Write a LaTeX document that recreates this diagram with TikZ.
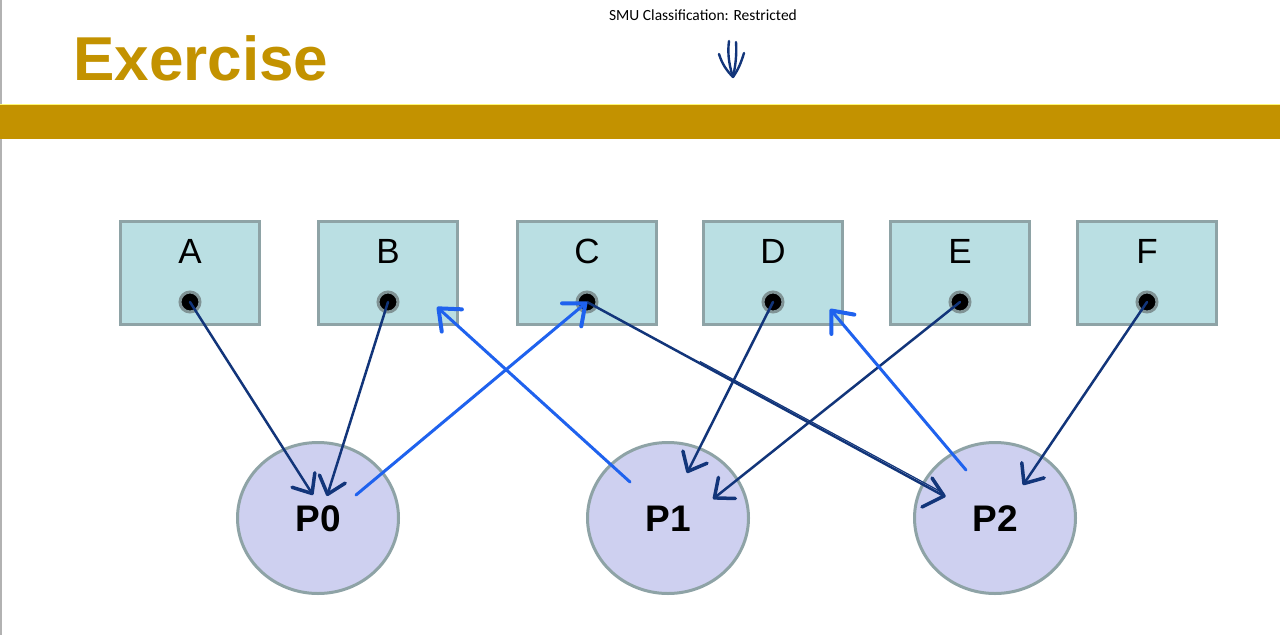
\documentclass[tikz,border=0pt]{standalone}
\usepackage{fontspec}
\setmainfont{Liberation Sans}
\newfontfamily\calibrifont{Carlito}
\usetikzlibrary{arrows.meta,shapes.geometric}

\definecolor{gold}{HTML}{C39200}
\definecolor{boxfill}{HTML}{BADFE3}
\definecolor{procfill}{HTML}{CED0F0}
\definecolor{edgegray}{HTML}{8EA3A6}
\definecolor{navy}{HTML}{12357A}
\definecolor{inkblue}{HTML}{1F62EE}

\tikzset{
  handtip/.tip={Straight Barb[length=16pt,width=27pt,line width=3.5pt,round]},
  bigtip/.tip={Straight Barb[length=18pt,width=30pt,line width=4pt,round]},
  mem/.style={draw=edgegray, line width=3pt, fill=boxfill, minimum width=139pt, minimum height=103pt, inner sep=0pt},
  memlabel/.style={font=\fontsize{35}{35}\selectfont, inner sep=0pt},
  dot/.style={circle, draw=edgegray!90!black, line width=3pt, fill=black, minimum size=20pt, inner sep=0pt},
  proc/.style={ellipse, draw=edgegray, line width=3pt, fill=procfill, minimum width=161pt, minimum height=151pt, inner sep=0pt},
  proclabel/.style={font=\fontsize{37}{37}\selectfont\bfseries, inner sep=0pt},
  ptr/.style={draw=navy, line width=2.5pt, line cap=round},
  ink/.style={draw=inkblue, line width=3pt, line cap=round},
  navyink/.style={draw=navy, line width=3.5pt, line cap=round, line join=round},
}

\begin{document}
\begin{tikzpicture}[x=1pt,y=-1pt]
\useasboundingbox (0,0) rectangle (1280,635);
\fill[white] (0,0) rectangle (1280,635);

% slide edge and header band
\draw[gray!60, line width=2pt] (1,0) -- (1,635);
\fill[gold] (0,104) rectangle (1280,139);
\draw[yellow!55!white, line width=1pt] (0,104.5) -- (1280,104.5);

% header texts
\node[anchor=west, inner sep=0pt, text=gold, font=\fontsize{62}{62}\selectfont\bfseries] (title) at (73,58) {Exercise};
\node[inner sep=0pt, font=\calibrifont\fontsize{15.5}{16}\selectfont] (tag) at (703,15) {SMU Classification: Restricted};

% hand-drawn down arrow under the tag
\draw[navyink, line width=2.4pt] (729,41) .. controls (727,55) and (730,68) .. (733,77);
\draw[navyink, line width=2.4pt] (736,42) .. controls (737,56) and (735,68) .. (733,77);
\draw[navyink, line width=2.4pt] (719,54) .. controls (722,64) and (727,71) .. (733,77);
\draw[navyink, line width=2.4pt] (744,53) .. controls (741,63) and (738,70) .. (733,77);

% memory cells
\foreach \n/\x in {A/190, B/388, C/587, D/773, E/960, F/1147} {
  \node[mem] (\n) at (\x,273) {};
  \node[memlabel] (l\n) at (\x,251) {\n};
  \node[dot] (d\n) at (\x,302) {};
}

% processes
\node[proc] (P0) at (318,518) {};
\node[proclabel] (lP0) at (318,519) {P0};
\node[proc] (P1) at (668,518) {};
\node[proclabel] (lP1) at (668,519) {P1};
\node[proc] (P2) at (995,518) {};
\node[proclabel] (lP2) at (995,519) {P2};

% connector end points inside the processes
\coordinate (tA) at (313,495);
\coordinate (tB) at (327,496);
\coordinate (tD) at (687,473);
\coordinate (tE) at (713,499);
\coordinate (tF) at (1023,485);
\coordinate (tC) at (944,496);
\coordinate (sP0) at (356,495);
\coordinate (sP1) at (630,482);
\coordinate (sP2) at (966,470);
\coordinate (hB) at (437,307);
\coordinate (hD) at (830,309);
\coordinate (mC) at (700,364);

% printed pointers
\draw[ptr, -handtip] (dA.center) -- (tA);
\draw[ptr, -handtip] (dB.center) -- (tB);
\draw[ptr, -handtip] (dD.center) -- (tD);
\draw[ptr, -handtip] (dE.center) -- (tE);
\draw[ptr, -handtip] (dF.center) -- (tF);
\draw[ptr] (dC.center) -- (tC);
\draw[navy, line width=1.2pt] ([yshift=2.5pt]mC) -- ([yshift=2.5pt]tC);
\draw[navyink] ([shift={(-12,-18)}]tC) -- (tC) -- ([shift={(-22,11)}]tC);

% pointers added by hand
\draw[ink, -bigtip] (sP0) -- (dC.center);
\draw[ink, -bigtip] (sP1) -- (hB);
\draw[ink, -bigtip] (sP2) -- (hD);
\end{tikzpicture}
\end{document}
